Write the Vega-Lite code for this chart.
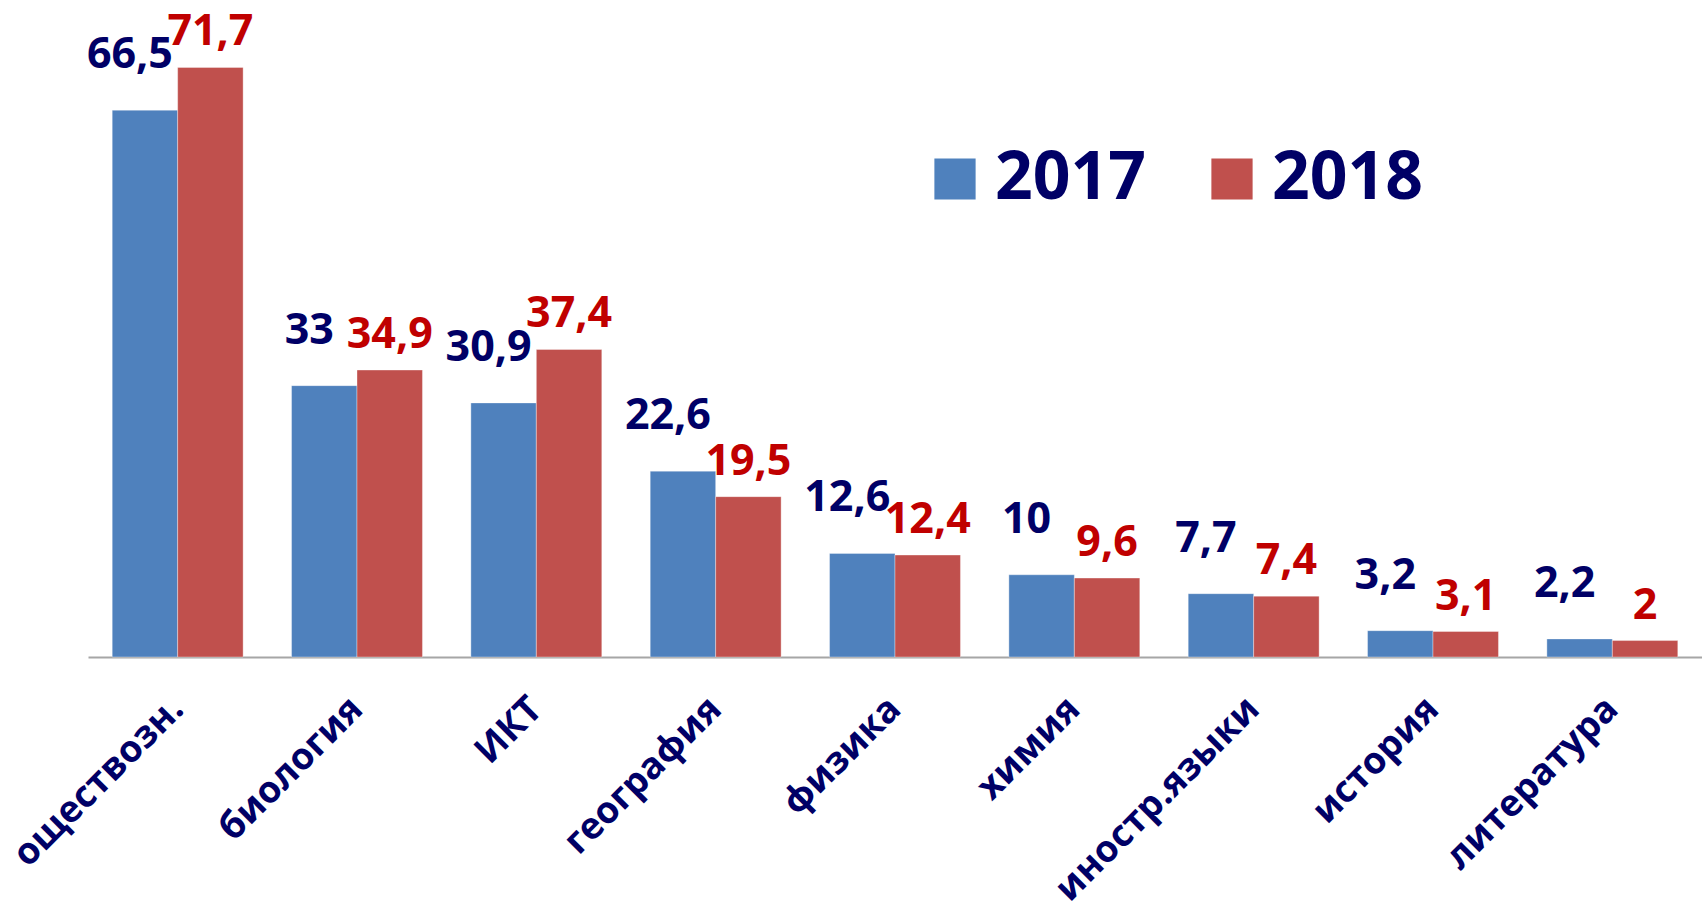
{
  "$schema": "https://vega.github.io/schema/vega-lite/v6.json",
  "autosize": "none",
  "width": 1614,
  "height": 657,
  "padding": {"left": 88, "top": 0, "right": 0, "bottom": 263},
  "background": "white",
  "config": {
    "view": {"stroke": null},
    "locale": {"number": {"decimal": ",", "thousands": " ", "grouping": [3], "currency": ["", ""]}}
  },
  "data": {
    "values": [
      {"subject": "оществозн.", "year": "2017", "value": 66.5},
      {"subject": "оществозн.", "year": "2018", "value": 71.7},
      {"subject": "биология", "year": "2017", "value": 33},
      {"subject": "биология", "year": "2018", "value": 34.9},
      {"subject": "ИКТ", "year": "2017", "value": 30.9},
      {"subject": "ИКТ", "year": "2018", "value": 37.4},
      {"subject": "география", "year": "2017", "value": 22.6},
      {"subject": "география", "year": "2018", "value": 19.5},
      {"subject": "физика", "year": "2017", "value": 12.6},
      {"subject": "физика", "year": "2018", "value": 12.4},
      {"subject": "химия", "year": "2017", "value": 10},
      {"subject": "химия", "year": "2018", "value": 9.6},
      {"subject": "иностр.языки", "year": "2017", "value": 7.7},
      {"subject": "иностр.языки", "year": "2018", "value": 7.4},
      {"subject": "история", "year": "2017", "value": 3.2},
      {"subject": "история", "year": "2018", "value": 3.1},
      {"subject": "литература", "year": "2017", "value": 2.2},
      {"subject": "литература", "year": "2018", "value": 2}
    ]
  },
  "encoding": {
    "x": {
      "field": "subject",
      "type": "nominal",
      "sort": null,
      "scale": {"paddingInner": 0.27, "paddingOuter": 0.135},
      "axis": {
        "title": null,
        "domainColor": "#A6A6A6",
        "domainWidth": 2,
        "ticks": false,
        "labelAngle": -45,
        "labelAlign": "right",
        "labelBaseline": "middle",
        "labelPadding": 46,
        "labelFont": "Open Sans",
        "labelFontWeight": "bold",
        "labelFontSize": 37,
        "labelColor": "#000066",
        "labelLimit": 0
      }
    },
    "xOffset": {"field": "year", "type": "nominal", "scale": {"paddingInner": 0}},
    "y": {
      "field": "value",
      "type": "quantitative",
      "scale": {"domain": [0, 79.9], "nice": false, "zero": true},
      "axis": null
    }
  },
  "layer": [
    {
      "mark": {"type": "bar", "stroke": "#ffffff", "strokeOpacity": 0.35, "strokeWidth": 1},
      "encoding": {
        "color": {
          "field": "year",
          "type": "nominal",
          "scale": {"domain": ["2017", "2018"], "range": ["#4F81BD", "#C0504D"]},
          "legend": {
            "title": null,
            "orient": "none",
            "legendX": 834,
            "legendY": 146,
            "direction": "horizontal",
            "symbolType": "square",
            "symbolSize": 1700,
            "symbolStrokeWidth": 0,
            "symbolOpacity": 1,
            "labelFont": "Open Sans",
            "labelFontWeight": "bold",
            "labelFontSize": 66,
            "labelColor": "#000066",
            "labelOffset": 7,
            "columnPadding": 53,
            "labelLimit": 0
          }
        }
      }
    },
    {
      "transform": [{"filter": "datum.year == '2017'"}],
      "mark": {
        "type": "text",
        "baseline": "alphabetic",
        "dy": -42,
        "dx": -15,
        "font": "Open Sans",
        "fontWeight": "bold",
        "fontSize": 43,
        "color": "#000066"
      },
      "encoding": {
        "text": {"field": "value", "type": "quantitative", "format": ".1~f"}
      }
    },
    {
      "transform": [{"filter": "datum.year == '2018'"}],
      "mark": {
        "type": "text",
        "baseline": "alphabetic",
        "dy": -22,
        "font": "Open Sans",
        "fontWeight": "bold",
        "fontSize": 43,
        "color": "#C00000"
      },
      "encoding": {
        "text": {"field": "value", "type": "quantitative", "format": ".1~f"}
      }
    }
  ]
}
